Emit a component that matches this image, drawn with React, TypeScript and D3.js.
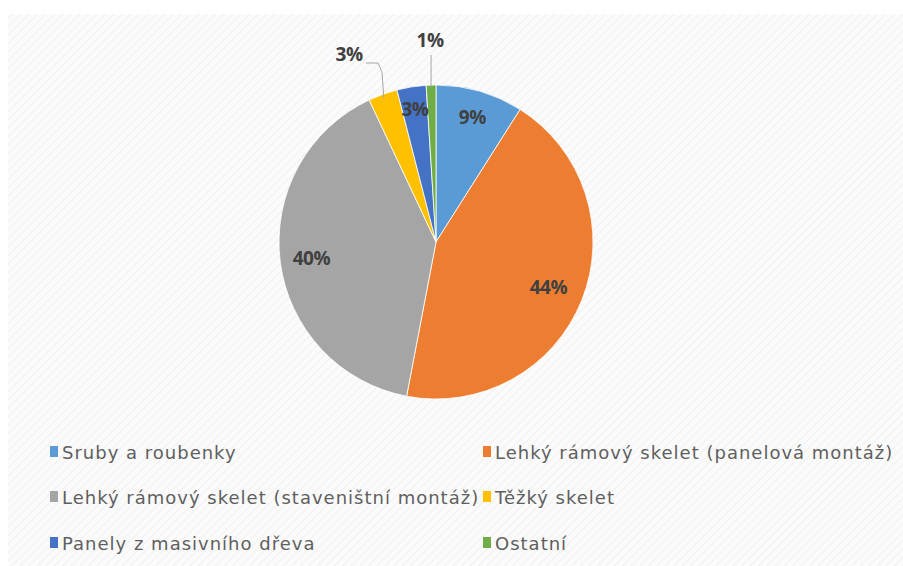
import React from "react";
import * as d3 from "d3";

const categories = [
  "Sruby a roubenky",
  "Lehký rámový skelet (panelová montáž)",
  "Lehký rámový skelet (staveništní montáž)",
  "Těžký skelet",
  "Panely z masivního dřeva",
  "Ostatní",
];
const values = [9, 44, 40, 3, 3, 1];
const labels = ["9%", "44%", "40%", "3%", "3%", "1%"];
const colors = ["#5B9BD5", "#ED7D31", "#A5A5A5", "#FFC000", "#4472C4", "#70AD47"];

const W = 903;
const H = 566;
const cx = 436;
const cy = 242;
const R = 157;

export default function App() {
  const pie = d3.pie<number>().sort(null).value((d) => d)(values);
  const arc = d3.arc<d3.PieArcDatum<number>>().innerRadius(0).outerRadius(R);
  const labelArc = (i: number, f: number) => {
    const a = pie[i];
    const m = (a.startAngle + a.endAngle) / 2;
    return [Math.sin(m) * R * f, -Math.cos(m) * R * f];
  };
  const insideF = [0.83, 0.77, 0.8, 0, 0.86, 0];

  const legendCols = [50, 483];
  const legendRows = [452, 497, 543];
  const labelFont = "'Open Sans', sans-serif";

  return (
    <svg width={W} height={H} style={{ position: "absolute", left: 0, top: 0 }}>
      <defs>
        <pattern id="hatch" width="6" height="6" patternUnits="userSpaceOnUse" patternTransform="rotate(45)">
          <rect width="6" height="6" fill="#fbfbfb" />
          <line x1="0" y1="0" x2="0" y2="6" stroke="#f0f0f0" strokeWidth="2" />
        </pattern>
      </defs>
      <rect x={0} y={0} width={W} height={H} fill="#ffffff" />
      <rect x={8} y={14} width={W - 8} height={H - 14} fill="url(#hatch)" />
      <g transform={`translate(${cx},${cy})`}>
        {pie.map((p, i) => (
          <path key={i} d={arc(p) || ""} fill={colors[i]} stroke="#ffffff" strokeWidth={0.8} />
        ))}
        {pie.map((p, i) => {
          if (insideF[i] === 0) return null;
          const [x, y] = labelArc(i, insideF[i]);
          return (
            <text
              key={"l" + i}
              x={x}
              y={y}
              textAnchor="middle"
              dominantBaseline="central"
              fontFamily={labelFont}
              fontWeight="bold"
              fontSize={19}
              letterSpacing={-0.5}
              fill="#404040"
            >
              {labels[i]}
            </text>
          );
        })}
        {(() => {
          const [ex, ey] = labelArc(3, 1.0);
          return (
            <g>
              <polyline
                points={`${-70},${-179} ${-58},${-179} ${-54},${-170} ${ex + 1},${ey + 4}`}
                fill="none"
                stroke="#a6a6a6"
                strokeWidth={1}
              />
              <text x={-87} y={-188} textAnchor="middle" dominantBaseline="central"
                fontFamily={labelFont} fontWeight="bold" fontSize={19} letterSpacing={-0.5} fill="#404040">
                {labels[3]}
              </text>
            </g>
          );
        })()}
        {(() => {
          const [ex, ey] = labelArc(5, 1.0);
          return (
            <g>
              <line x1={ex} y1={-187} x2={ex} y2={ey + 2} stroke="#a6a6a6" strokeWidth={1} />
              <text x={ex - 1} y={-202} textAnchor="middle" dominantBaseline="central"
                fontFamily={labelFont} fontWeight="bold" fontSize={19} letterSpacing={-0.5} fill="#404040">
                {labels[5]}
              </text>
            </g>
          );
        })()}
      </g>
      <g fontFamily="'DejaVu Sans', sans-serif" fontSize={18} letterSpacing={1} fill="#5f5f5f">
        {categories.map((c, i) => {
          const x = legendCols[i % 2];
          const y = legendRows[Math.floor(i / 2)];
          return (
            <g key={c}>
              <rect x={x} y={y - 6} width={8} height={11} fill={colors[i]} />
              <text x={x + 12} y={y} dominantBaseline="central">{c}</text>
            </g>
          );
        })}
      </g>
    </svg>
  );
}
